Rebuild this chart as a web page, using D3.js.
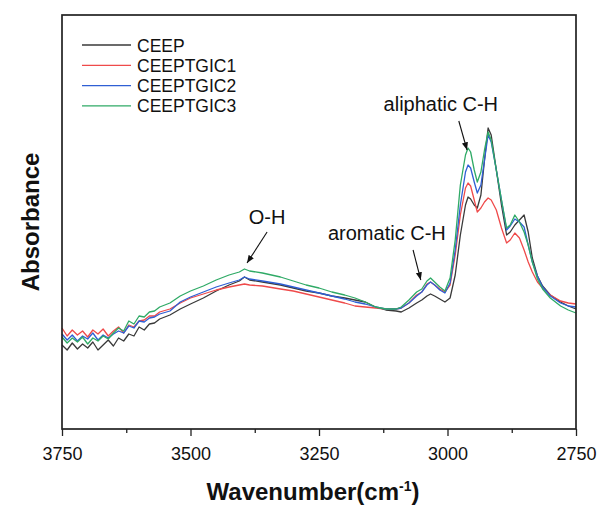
<!DOCTYPE html>
<html><head><meta charset="utf-8">
<script src="https://cdn.jsdelivr.net/npm/d3@7"></script>
<style>body{margin:0;background:#fff}svg{display:block}text{font-family:"Liberation Sans",Arial,sans-serif}</style>
</head><body><svg id="c" width="603" height="506"></svg>
<script>
const wavenumbers = [3750,3740,3730,3720,3710,3700,3690,3680,3670,3660,3650,3640,3630,3620,3610,3600,3590,3580,3570,3560,
 3540,3520,3500,3475,3450,3425,3405,3395,3385,3360,3325,3300,3275,3250,3225,3200,3180,3160,3140,3120,
 3100,3090,3075,3060,3050,3040,3033,3025,3015,3005,2995,2985,2975,2965,2960,2955,2948,2942,2935,2928,
 2921,2915,2905,2895,2885,2878,2869,2860,2851,2843,2835,2825,2815,2800,2780,2765,2750];
const ceep = [8.4,7.9,8.6,8.0,8.5,8.1,8.7,7.9,8.4,8.9,8.3,9.1,8.8,9.5,9.3,10.2,9.9,10.5,10.6,11.0,
 11.4,12.0,12.5,13.1,13.8,14.4,14.8,15.2,14.9,14.7,14.4,14.1,13.8,13.6,13.3,13.1,12.9,12.7,12.2,11.9,
 11.8,11.7,12.1,12.6,12.9,13.3,13.5,13.3,13.0,12.7,13.1,15.4,19.4,22.4,23.2,23.0,22.4,22.1,23.4,26.9,
 30.1,29.4,25.9,22.4,19.4,19.7,20.4,20.9,21.4,19.7,17.1,15.3,14.3,13.4,12.7,12.3,12.0];
const ceeptgic1 = [10.1,9.3,9.9,9.4,9.8,9.2,9.9,9.5,10.0,9.3,9.8,10.2,9.6,10.4,10.2,10.8,10.9,11.3,11.3,11.7,
 12.0,12.6,13.1,13.5,13.9,14.2,14.4,14.5,14.4,14.3,14.0,13.8,13.5,13.2,12.9,12.6,12.3,12.2,12.1,12.0,
 12.0,12.1,12.6,13.4,13.7,14.5,14.7,14.4,14.0,13.7,14.4,17.4,21.4,24.1,24.6,24.3,22.9,21.7,22.1,22.7,
 23.1,22.9,21.9,20.1,18.6,18.9,19.6,19.1,17.9,16.7,15.7,14.7,14.1,13.4,12.8,12.6,12.5];
const ceeptgic2 = [9.5,8.9,9.4,8.8,9.3,9.0,9.6,8.9,9.4,9.1,9.5,9.8,9.6,10.3,10.1,10.8,10.7,11.1,11.2,11.5,
 11.8,12.7,13.2,13.7,14.2,14.6,14.9,15.2,15.0,14.8,14.5,14.2,13.9,13.6,13.3,13.0,12.7,12.5,12.2,12.0,
 12.0,12.1,12.6,13.3,13.7,14.4,14.7,14.4,13.9,13.6,14.6,17.9,22.4,25.7,26.4,26.1,24.7,23.6,24.4,26.9,
 29.4,28.7,25.9,22.9,19.9,20.3,21.0,20.7,20.2,18.4,16.7,15.3,14.2,13.3,12.6,12.3,12.2];
const ceeptgic3 = [9.2,8.6,9.1,8.7,9.2,8.5,9.1,8.8,9.3,9.0,9.6,10.1,9.8,10.8,10.5,11.3,11.2,11.7,11.8,12.2,
 12.6,13.3,13.8,14.3,14.9,15.4,15.7,16.0,15.8,15.6,15.2,14.8,14.4,14.1,13.7,13.4,13.1,12.7,12.2,12.0,
 12.0,12.2,12.9,13.7,14.0,14.8,15.1,14.7,14.2,13.8,15.1,18.9,24.4,27.4,28.1,27.7,25.9,24.7,25.7,27.9,
 29.7,28.9,25.9,22.9,20.1,20.4,21.4,20.7,19.7,18.4,16.7,15.0,14.0,13.1,12.3,11.9,11.6];
const seriesNames = ["CEEP","CEEPTGIC1","CEEPTGIC2","CEEPTGIC3"];
const seriesColors = ["#3a3a3a","#ef4a4a","#2f5fd4","#2faa66"];
const xTicks = [3750,3500,3250,3000,2750];
const xMinorTicks = [3625,3375,3125,2875];
const annLabels = ["O-H","aromatic C-H","aliphatic C-H"];
const annLabelPos = [[3351,20.5],[3118,18.9],[3013,31.8]];
const annArrowFrom = [[3351,19.7],[3067,17.9],[2978,30.8]];
const annArrowTo = [[3390,16.6],[3052,14.9],[2962,27.9]];

const series = [ceep, ceeptgic1, ceeptgic2, ceeptgic3];
const svg = d3.select("#c");
const m = {l:62, r:576, t:15, b:429};
const x = d3.scaleLinear().domain([3750,2750]).range([m.l, m.r]);
const y = d3.scaleLinear().domain([0, 41.4]).range([m.b, m.t]);

const line = d3.line().x((d,i)=>x(wavenumbers[i])).y(d=>y(d));
series.forEach((s,k)=>{
  svg.append("path").attr("d", line(s)).attr("fill","none")
    .attr("stroke", seriesColors[k]).attr("stroke-width",1.3).attr("stroke-linejoin","round");
});

const ax = svg.append("g").attr("transform",`translate(0,${m.b})`)
  .call(d3.axisBottom(x).tickValues(xTicks).tickSize(7).tickPadding(11).tickFormat(d3.format("d")));
ax.select(".domain").remove();
ax.selectAll("line").attr("stroke","#222").attr("stroke-width",1.3);
ax.selectAll("text").attr("font-size",18).attr("fill","#111");
const axm = svg.append("g").attr("transform",`translate(0,${m.b})`)
  .call(d3.axisBottom(x).tickValues(xMinorTicks).tickSize(4).tickFormat(""));
axm.select(".domain").remove();
axm.selectAll("line").attr("stroke","#222").attr("stroke-width",1.3);

svg.append("rect").attr("x",m.l).attr("y",m.t).attr("width",m.r-m.l).attr("height",m.b-m.t)
  .attr("fill","none").attr("stroke","#222").attr("stroke-width",1.7);

const xt = svg.append("text").attr("x",313).attr("y",500).attr("text-anchor","middle")
  .attr("font-size",24).attr("font-weight","bold").attr("fill","#111");
xt.append("tspan").text("Wavenumber(cm");
xt.append("tspan").attr("dy",-9).attr("font-size",14).text("-1");
xt.append("tspan").attr("dy",9).text(")");
svg.append("text").attr("transform",`translate(39,${(m.t+m.b)/2}) rotate(-90)`).attr("text-anchor","middle")
  .attr("font-size",24).attr("font-weight","bold").attr("fill","#111").text("Absorbance");

const lg = svg.append("g");
seriesNames.forEach((n,k)=>{
  const yy = 45 + k*20.3;
  lg.append("line").attr("x1",82).attr("x2",131).attr("y1",yy).attr("y2",yy)
    .attr("stroke",seriesColors[k]).attr("stroke-width",1.3);
  lg.append("text").attr("x",137).attr("y",yy+6.5).attr("font-size",17.5).attr("fill","#111").text(n);
});

svg.append("defs").append("marker").attr("id","ah").attr("viewBox","0 0 10 10").attr("refX",10).attr("refY",5)
  .attr("markerWidth",7).attr("markerHeight",7).attr("orient","auto")
  .append("path").attr("d","M0,1 L10,5 L0,9 Z").attr("fill","#111");
annLabels.forEach((t,i)=>{
  svg.append("text").attr("x",x(annLabelPos[i][0])).attr("y",y(annLabelPos[i][1])).attr("text-anchor","middle")
    .attr("font-size",20).attr("fill","#111").text(t);
  svg.append("line").attr("x1",x(annArrowFrom[i][0])).attr("y1",y(annArrowFrom[i][1]))
    .attr("x2",x(annArrowTo[i][0])).attr("y2",y(annArrowTo[i][1]))
    .attr("stroke","#111").attr("stroke-width",1.1).attr("marker-end","url(#ah)");
});
</script></body></html>
